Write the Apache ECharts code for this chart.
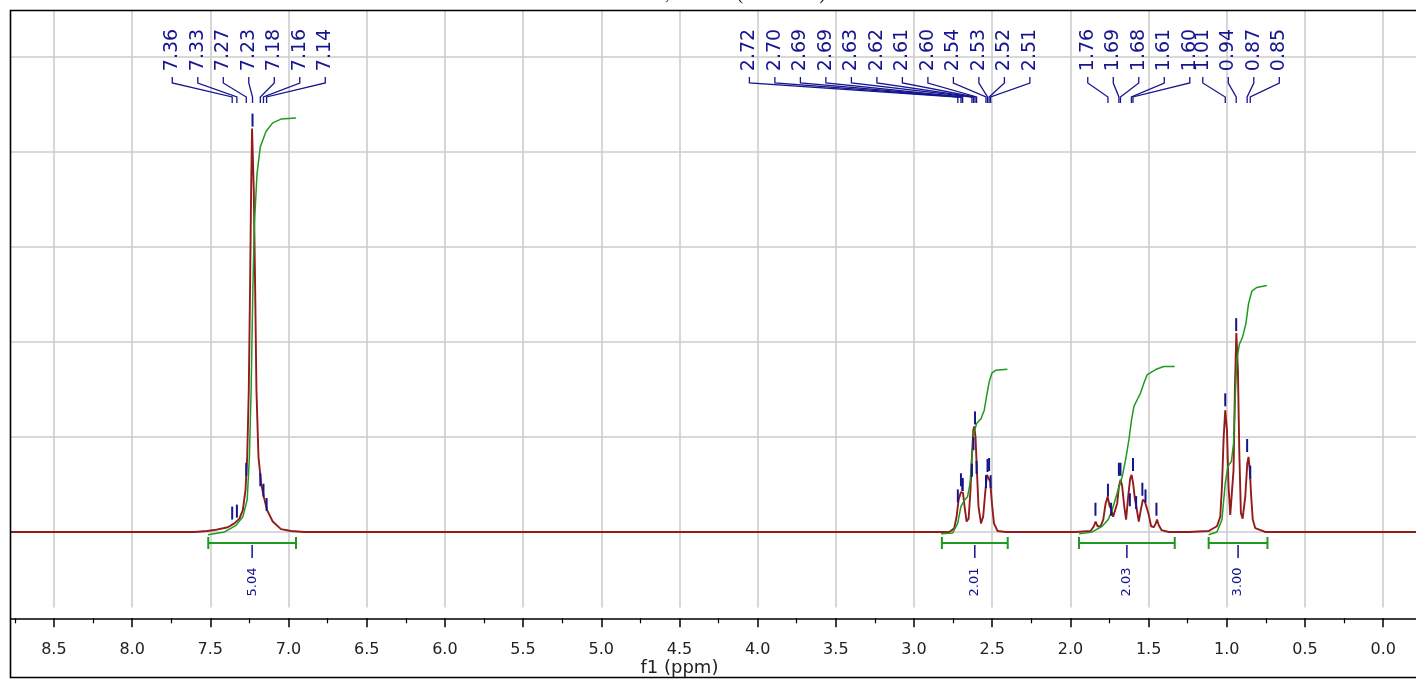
<!DOCTYPE html>
<html><head><meta charset="utf-8">
<script src="https://cdn.jsdelivr.net/npm/echarts@6/dist/echarts.min.js"></script>
<style>html,body{margin:0;padding:0;background:#fff;overflow:hidden;width:1416px;height:679px;position:relative}
#c{position:absolute;left:-40px;top:0;width:1520px;height:679px}</style>
</head><body><div id="c"></div>
<script>
// ---------------- DATA ----------------
// spectrum traces: [ppm, intensity]
const specAromatic = [[7.60,0],[7.52,0.01],[7.473,0.02],[7.388,0.05],[7.346,0.09],[7.314,0.14],[7.292,0.23],[7.275,0.44],[7.264,0.79],[7.254,1.49],[7.246,2.54],[7.239,3.59],[7.233,4.24],[7.222,3.59],[7.213,2.54],[7.205,1.49],[7.192,0.79],[7.175,0.51],[7.158,0.37],[7.137,0.23],[7.101,0.11],[7.048,0.03],[6.984,0.01],[6.90,0]];
const specCH2 = [[2.80,0],[2.774,0.00],[2.743,0.04],[2.728,0.16],[2.715,0.34],[2.700,0.42],[2.687,0.41],[2.677,0.27],[2.664,0.11],[2.651,0.14],[2.639,0.44],[2.630,0.79],[2.621,1.07],[2.615,1.11],[2.607,1.00],[2.598,0.65],[2.588,0.27],[2.572,0.09],[2.558,0.16],[2.545,0.41],[2.534,0.60],[2.524,0.62],[2.513,0.53],[2.502,0.30],[2.489,0.09],[2.466,0.01],[2.413,0]];
const specMid = [[1.966,0],[1.871,0.01],[1.850,0.06],[1.839,0.11],[1.826,0.06],[1.807,0.06],[1.790,0.13],[1.775,0.30],[1.762,0.37],[1.749,0.27],[1.739,0.24],[1.727,0.16],[1.716,0.14],[1.701,0.30],[1.690,0.48],[1.679,0.55],[1.669,0.48],[1.656,0.27],[1.644,0.13],[1.631,0.37],[1.618,0.56],[1.609,0.60],[1.599,0.51],[1.588,0.35],[1.577,0.25],[1.563,0.11],[1.550,0.23],[1.537,0.34],[1.524,0.32],[1.513,0.30],[1.499,0.18],[1.484,0.06],[1.467,0.05],[1.454,0.09],[1.446,0.13],[1.435,0.07],[1.418,0.02],[1.371,0]];
const specMethyl = [[1.244,0],[1.116,0.01],[1.063,0.06],[1.042,0.16],[1.031,0.48],[1.020,1.00],[1.010,1.28],[0.999,1.07],[0.989,0.48],[0.978,0.18],[0.968,0.16],[0.957,0.65],[0.948,1.53],[0.939,2.09],[0.929,1.70],[0.920,0.83],[0.910,0.20],[0.899,0.14],[0.882,0.37],[0.869,0.72],[0.861,0.79],[0.853,0.65],[0.844,0.37],[0.834,0.13],[0.818,0.04],[0.755,0]];

// integral curves: [ppm, level]
const intAromatic = [[7.515,-0.03],[7.409,0.00],[7.335,0.07],[7.292,0.16],[7.264,0.34],[7.250,0.79],[7.239,1.49],[7.228,2.54],[7.218,3.24],[7.201,3.77],[7.180,4.05],[7.144,4.21],[7.101,4.30],[7.048,4.34],[6.952,4.35]];
const intCH2 = [[2.827,-0.02],[2.753,-0.01],[2.721,0.09],[2.700,0.27],[2.679,0.33],[2.658,0.37],[2.642,0.51],[2.630,0.79],[2.617,1.04],[2.600,1.14],[2.572,1.19],[2.551,1.28],[2.537,1.42],[2.519,1.58],[2.502,1.67],[2.477,1.70],[2.403,1.71]];
const intMid = [[1.945,-0.02],[1.860,0.00],[1.797,0.06],[1.758,0.13],[1.733,0.23],[1.701,0.41],[1.669,0.58],[1.644,0.79],[1.626,0.97],[1.609,1.18],[1.594,1.32],[1.573,1.39],[1.552,1.46],[1.531,1.56],[1.510,1.65],[1.482,1.68],[1.452,1.71],[1.403,1.74],[1.333,1.74]];
const intMethyl = [[1.116,-0.03],[1.063,0.00],[1.031,0.13],[1.010,0.51],[0.993,0.69],[0.971,0.74],[0.957,0.93],[0.946,1.42],[0.936,1.81],[0.920,1.97],[0.899,2.05],[0.878,2.19],[0.861,2.40],[0.840,2.53],[0.808,2.57],[0.744,2.59]];

// integration ranges and values
const integralFrom = [7.513, 2.822, 1.945, 1.116];
const integralTo = [6.952, 2.401, 1.333, 0.740];
const integralValues = ['5.04', '2.01', '2.03', '3.00'];

// picked peaks (ppm, height)
const pickedPpm = [7.36,7.33,7.27,7.23,7.18,7.16,7.14, 2.72,2.70,2.69,2.69,2.63,2.62,2.61,2.60,2.54,2.53,2.52,2.51, 1.84,1.76,1.74,1.69,1.68,1.62,1.60,1.58,1.54,1.52,1.45, 1.01,0.94,0.87,0.85];
const pickedHeight = [0.12,0.14,0.58,4.25,0.47,0.36,0.21, 0.30,0.47,0.42,0.42,0.57,0.85,1.12,0.60,0.45,0.62,0.63,0.45, 0.16,0.36,0.16,0.58,0.58,0.26,0.63,0.23,0.37,0.30,0.16, 1.31,2.10,0.83,0.55];

// peak labels, in groups
const labelsAromatic = ['7.36','7.33','7.27','7.23','7.18','7.16','7.14'];
const labelsCH2 = ['2.72','2.70','2.69','2.69','2.63','2.62','2.61','2.60','2.54','2.53','2.52','2.51'];
const labelsMid = ['1.76','1.69','1.68','1.61','1.60'];
const labelsMethyl = ['1.01','0.94','0.87','0.85'];

const axisName = 'f1 (ppm)';
const titleText = '1H NMR, CDCl3 (400 MHz)';

// ---------------- LAYOUT / STYLE ----------------
const SHIFT = 40; // container is shifted 40px left of the page
const BLUE = '#15158f', GREEN = '#1f9a1f', RED = '#931b1b', GRIDC = '#cdcdcd';
const groupCenters = [7.254, 3.156, 1.563, 0.909]; // label fan centres (ppm)
const LABEL_SPACING = 25.5;
const BAR_LEVEL = -0.116;
const gridLevels = [0,1,2,3,4,5];
const Y_MIN = -0.795, Y_MAX = 5.479;

const labelGroups = [labelsAromatic, labelsCH2, labelsMid, labelsMethyl];
const labelItems = [];
labelGroups.forEach((g, gi) => g.forEach((t, i) => labelItems.push({
  text: t, ppm: parseFloat(t), center: groupCenters[gi], off: i - (g.length - 1) / 2
})));

const spectrum = [[9.0,0]].concat(specAromatic, specCH2, specMid, specMethyl, [[-0.5,0]]);

const chart = echarts.init(document.getElementById('c'), null, {renderer: 'canvas'});

function lineSeries(data, color, width, z) {
  return {type:'line', data, showSymbol:false, symbol:'none', z, silent:true,
    lineStyle:{color, width}, itemStyle:{color}};
}

chart.setOption({
  animation: false,
  backgroundColor: '#fff',
  grid: {left: 13.9, right: 16.6, top: 10.7, bottom: 71.4, containLabel: false},
  xAxis: {
    type: 'value', min: -0.5, max: 9.0, interval: 0.5, inverse: true, offset: 10.7,
    axisLine: {show: true, onZero: false, lineStyle: {color: '#000', width: 1.5}},
    axisTick: {show: true, length: 9, lineStyle: {color: '#000', width: 1.5}},
    minorTick: {show: true, splitNumber: 2, length: 5, lineStyle: {color: '#000', width: 1.2}},
    axisLabel: {formatter: v => v.toFixed(1), fontSize: 16, color: '#222', margin: 24, fontFamily: 'DejaVu Sans'},
    splitLine: {show: true, lineStyle: {color: GRIDC, width: 1.6}}
  },
  yAxis: {type: 'value', min: Y_MIN, max: Y_MAX, show: false},
  series: [
    {type:'line', data:[[4,-5]], showSymbol:false, z:1, silent:true, lineStyle:{width:0},
      markLine:{silent:true, z:1, symbol:['none','none'], label:{show:false},
        lineStyle:{color:GRIDC, width:1.6, type:'solid'},
        data: gridLevels.concat([Y_MIN]).map(v => ({yAxis: v}))}},
    lineSeries(spectrum, RED, 1.9, 3),
    lineSeries(intAromatic, GREEN, 1.5, 4),
    lineSeries(intCH2, GREEN, 1.5, 4),
    lineSeries(intMid, GREEN, 1.5, 4),
    lineSeries(intMethyl, GREEN, 1.5, 4),
    {type:'custom', z:5, silent:true, clip:false,
      data: pickedPpm.map((p, i) => [p, pickedHeight[i]]),
      renderItem: (params, api) => {
        const p = api.coord([api.value(0), api.value(1)]);
        return {type:'line', shape:{x1:p[0], y1:p[1]-1, x2:p[0], y2:p[1]-14}, style:{stroke:BLUE, lineWidth:2}};
      }},
    {type:'custom', z:6, silent:true, clip:false,
      data: labelItems.map(d => [d.ppm, 0]),
      renderItem: (params, api) => {
        const d = labelItems[params.dataIndex];
        const px = api.coord([d.ppm, 0])[0];
        const cx = api.coord([d.center, 0])[0] + d.off * LABEL_SPACING;
        const yText = api.coord([0, 5.066])[1];
        const y1 = api.coord([0, 4.782])[1], y2 = api.coord([0, 4.719])[1];
        const y3 = api.coord([0, 4.572])[1], y4 = api.coord([0, 4.509])[1];
        return {type:'group', children:[
          {type:'text', x: cx, y: yText, rotation: Math.PI/2,
            style:{text:d.text, fill:BLUE, fontSize:19, fontFamily:'DejaVu Sans', align:'center', verticalAlign:'middle'}},
          {type:'polyline', shape:{points:[[cx,y1],[cx,y2],[px,y3],[px,y4]]},
            style:{stroke:BLUE, lineWidth:1.3, fill:null}}
        ]};
      }},
    {type:'custom', z:6, silent:true, clip:false,
      data: integralFrom.map((f, i) => [(f + integralTo[i]) / 2, BAR_LEVEL]),
      renderItem: (params, api) => {
        const i = params.dataIndex;
        const a = api.coord([integralFrom[i], BAR_LEVEL]);
        const b = api.coord([integralTo[i], BAR_LEVEL]);
        const c = api.coord([api.value(0), BAR_LEVEL]);
        const y = a[1];
        const st = {stroke: GREEN, lineWidth: 2};
        return {type:'group', children:[
          {type:'line', shape:{x1:a[0], y1:y, x2:b[0], y2:y}, style:st},
          {type:'line', shape:{x1:a[0], y1:y-6, x2:a[0], y2:y+6}, style:st},
          {type:'line', shape:{x1:b[0], y1:y-6, x2:b[0], y2:y+6}, style:st},
          {type:'line', shape:{x1:c[0], y1:y+2, x2:c[0], y2:y+15}, style:{stroke:BLUE, lineWidth:1.5}},
          {type:'text', x:c[0], y:y+39, rotation:Math.PI/2,
            style:{text:integralValues[i], fill:BLUE, fontSize:13, fontFamily:'DejaVu Sans', align:'center', verticalAlign:'middle'}}
        ]};
      }}
  ]
});

const nameX = chart.convertToPixel({xAxisIndex: 0}, 4.5);
chart.setOption({
  graphic: [
    {type:'rect', z:100, silent:true, shape:{x:0, y:0, width:SHIFT + 10, height:679}, style:{fill:'#fff'}},
    {type:'rect', z:101, silent:true, shape:{x:SHIFT + 10.5, y:10.5, width:1440, height:667}, style:{fill:null, stroke:'#000', lineWidth:1.6}},
    {type:'text', z:101, silent:true, x:nameX, y:668,
      style:{text:axisName, fontSize:18, fontFamily:'DejaVu Sans', fill:'#222', align:'center', verticalAlign:'middle'}},
    {type:'text', z:101, silent:true, x:SHIFT + 826, y:4,
      style:{text:titleText, fontSize:20, fontFamily:'Liberation Serif', fill:'#222', align:'right', verticalAlign:'bottom'}}
  ]
});
</script></body></html>
